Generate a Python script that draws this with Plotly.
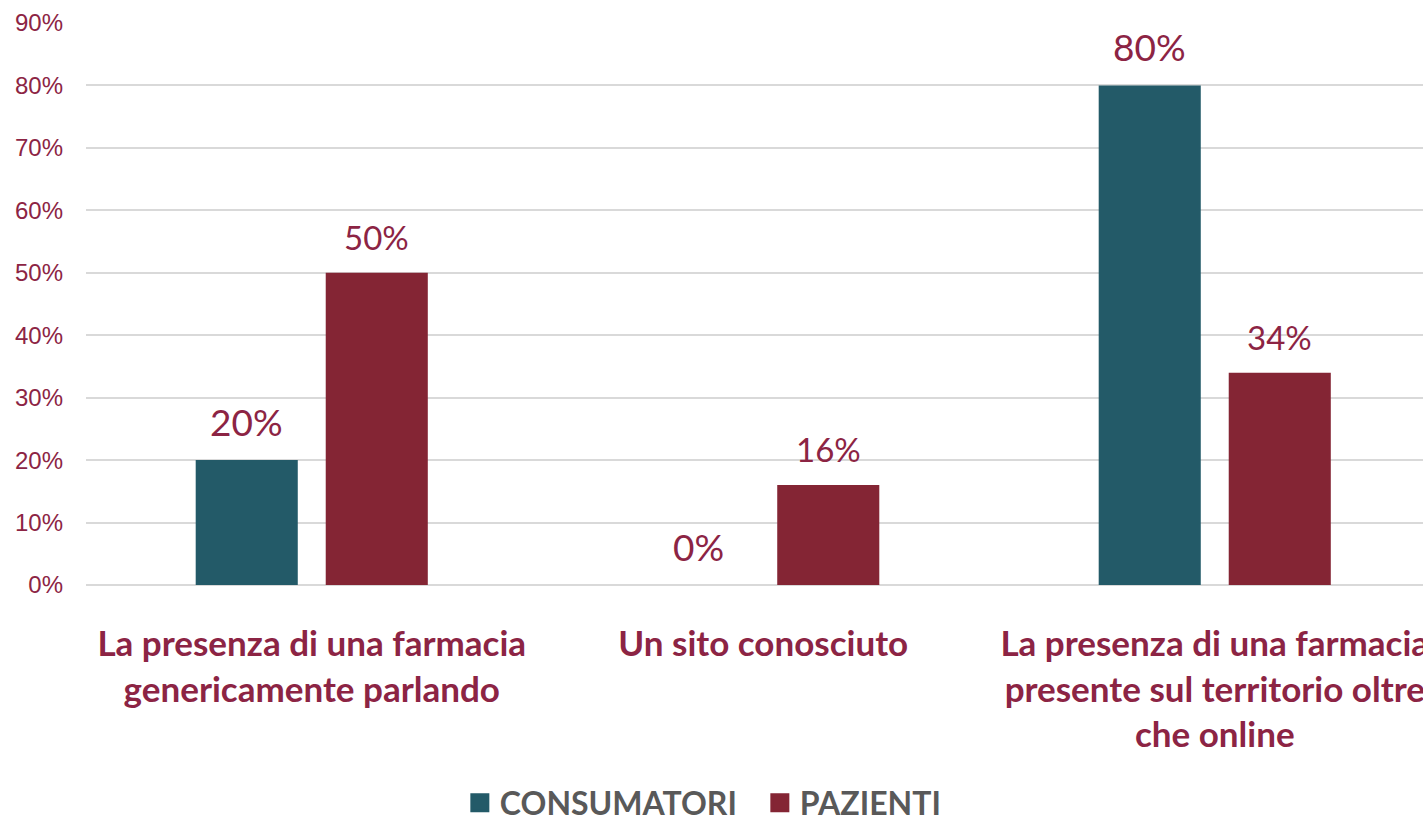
import plotly.graph_objects as go

categories = [
    "La presenza di una farmacia<br>genericamente parlando",
    "Un sito conosciuto",
    "La presenza di una farmacia<br>presente sul territorio oltre<br>che online",
]
series_names = ["CONSUMATORI", "PAZIENTI"]
consumatori = [0.20, 0.0, 0.80]
pazienti = [0.50, 0.16, 0.34]
y_ticks = [0, 0.1, 0.2, 0.3, 0.4, 0.5, 0.6, 0.7, 0.8, 0.9]

teal = "#235A68"
maroon = "#842534"
text_red = "#8C2444"

fig = go.Figure()
series = [consumatori, pazienti]
colors = [teal, maroon]
label_sizes = [37, 33]
shifts = [-65, 65]

for name, vals, col in zip(series_names, series, colors):
    fig.add_trace(go.Bar(x=categories, y=vals, name=name, marker_color=col,
                         marker_line_width=0, showlegend=False))
    # legend proxy with a bigger square
    fig.add_trace(go.Scatter(x=[None], y=[None], mode="markers", name=name,
                             marker=dict(symbol="square", size=16, color=col,
                                         line=dict(color=col, width=3))))

for vals, size, dx in zip(series, label_sizes, shifts):
    for cat, v in zip(categories, vals):
        fig.add_annotation(x=cat, y=v, text=f"{v:.0%}", showarrow=False,
                           xshift=dx, yshift=14, yanchor="bottom",
                           font=dict(family="Lato", size=size, color=text_red))

fig.update_layout(
    template="none",
    width=1423, height=817,
    margin=dict(l=86, r=0, t=23, b=232, autoexpand=False),
    paper_bgcolor="white", plot_bgcolor="white",
    barmode="group", bargap=0.424, bargroupgap=0.215,
    legend=dict(orientation="h", x=0.504, xanchor="center", y=-0.388, yanchor="middle",
                font=dict(family="Lato", size=32, color="#595959", weight="bold"),
                itemsizing="trace", entrywidth=255, entrywidthmode="pixels"),
)
fig.update_xaxes(type="category", range=[-0.5, -0.5 + 1337 / 451.5], automargin=False,
                 showgrid=False, showline=False, zeroline=False, ticks="",
                 ticklabeloverflow="allow", ticklabelstandoff=35,
                 tickfont=dict(family="Lato", size=35, color=text_red, weight="bold"))
fig.update_yaxes(range=[0, 0.9], tickvals=y_ticks, tickformat=".0%", automargin=False,
                 showgrid=True, gridcolor="#D9D9D9", gridwidth=1.5,
                 zeroline=True, zerolinecolor="#D9D9D9", zerolinewidth=1.5,
                 showline=False, ticks="", ticklabelstandoff=22,
                 tickfont=dict(family="Liberation Sans", size=24, color=text_red))

fig.write_html("out.html", config={"displayModeBar": False},
               post_script="document.body.style.margin='0';")
